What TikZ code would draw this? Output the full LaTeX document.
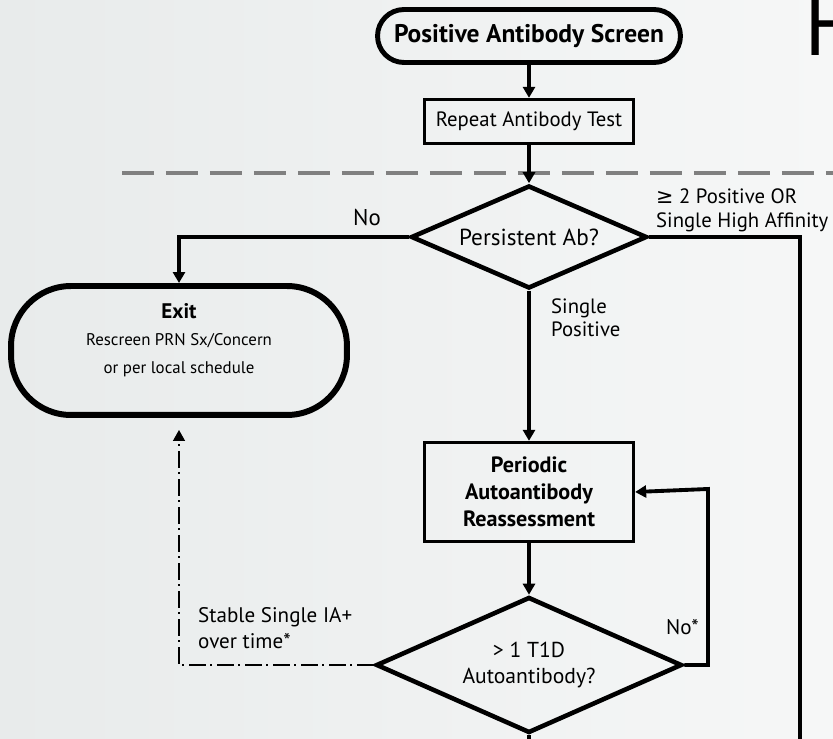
\documentclass[tikz,border=0pt]{standalone}
\usepackage{fontspec}
\setmainfont{PT Sans}
\newfontfamily\symfont{DejaVu Sans}
\usetikzlibrary{shapes.geometric,arrows.meta}
\definecolor{bgleft}{RGB}{232,235,235}
\definecolor{bgright}{RGB}{246,247,247}
\definecolor{sepgray}{RGB}{128,128,128}

\begin{document}
\begin{tikzpicture}[x=0.02cm,y=-0.02cm,>={Triangle[length=0.22cm,width=0.24cm]},
        every node/.style={font=\fontsize{12}{14}\selectfont},
        term/.style={draw,line width=2.8pt,rounded corners=0.53cm,minimum width=6.06cm,minimum height=1.06cm,inner sep=0pt},
        proc/.style={draw,line width=1.9pt,minimum width=4.18cm,inner sep=0pt,align=center},
        decide/.style={draw,diamond,aspect=2.3,line width=2.6pt,inner sep=0pt,align=center},
        line/.style={line width=2.2pt},
        dd/.style={line width=0.8pt,dash pattern=on 0.34cm off 0.1cm on 0.03cm off 0.09cm}]
        % background and page frame
        \shade[left color=bgleft,right color=bgright] (0,0) rectangle (833,739);
        \useasboundingbox (0,0) rectangle (833,739);
        \node[anchor=base west,font=\fontsize{50}{50}\selectfont] (title) at (798,56) {H};
        \draw[sepgray,line width=2.3pt,dash pattern=on 0.64cm off 0.24cm] (122,173) -- (850,173);
        % shapes
        \node[term,font=\fontsize{14.5}{16}\selectfont\bfseries] (start) at (529,36) {Positive Antibody Screen};
        \node[proc,minimum height=0.88cm,font=\fontsize{11.8}{14}\selectfont] (repeat) at (529,121.5) {Repeat Antibody Test};
        \node[decide,minimum width=4.72cm,minimum height=2.06cm,font=\fontsize{13.2}{15}\selectfont] (d1) at (529,237) {Persistent Ab?};
        \node[draw,line width=3.4pt,rounded corners=1.2cm,minimum width=6.72cm,minimum height=2.58cm] (exit) at (179,350.5) {};
        \node[align=center,font=\fontsize{9.6}{15.5}\selectfont] (exittxt) at (179,340) {{\fontsize{12}{15.5}\selectfont\bfseries Exit}\\Rescreen PRN Sx/Concern\\or per local schedule};
        \node[proc,minimum height=1.98cm,font=\fontsize{12.6}{15.5}\selectfont\bfseries] (periodic) at (529,492) {Periodic\\Autoantibody\\Reassessment};
        \node[decide,minimum width=6.12cm,minimum height=2.72cm,font=\fontsize{12.3}{15}\selectfont] (d2) at (529,665) {> 1 T1D\\Autoantibody?};
        \coordinate (rdown) at (800,760);
        \coordinate (loop) at (708,489);
        \coordinate (d2down) at (529,760);
        % connectors
        \draw[line,->] (start) -- (repeat);
        \draw[line,->] (repeat) -- (d1);
        \draw[line,->] (d1.west) -| (exit.north);
        \draw[line] (d1.east) -| (rdown);
        \draw[line,->] (d1) -- (periodic);
        \draw[line,->] (periodic) -- (d2);
        \draw[line,->] (d2.east) -| (loop) -- (periodic.east);
        \draw[line] (d2.south) -- (d2down);
        \draw[dd,->,shorten >=0.24cm] (d2.west) -| (exit.south);
        % labels
        \node[font=\fontsize{13}{15}\selectfont] (no1) at (367,218) {No};
        \node[anchor=west,align=left,font=\fontsize{11.8}{13.5}\selectfont] (high) at (650,210) {{\symfont ≥} 2 Positive OR\\Single High Affinity};
        \node[anchor=west,align=left,font=\fontsize{11.8}{13}\selectfont] (single) at (545,318) {Single\\Positive};
        \node[anchor=east] (no2) at (705,627) {No*};
        \node[anchor=west,align=left,font=\fontsize{12}{15}\selectfont] (stable) at (192,628) {Stable Single IA+\\over time*};
\end{tikzpicture}
\end{document}
